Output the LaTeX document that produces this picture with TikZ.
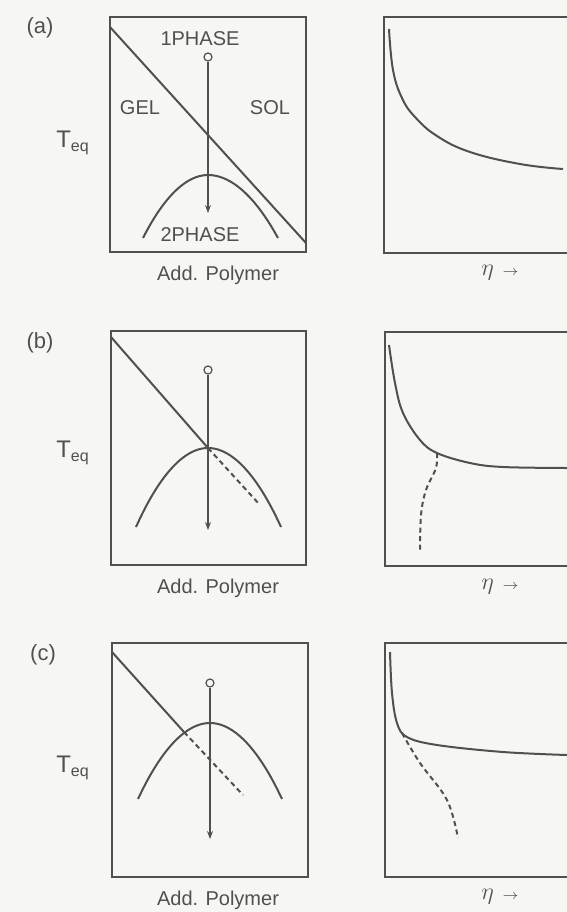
\documentclass[tikz,border=0pt]{standalone}
\usepackage{fontspec}
\setmainfont{Liberation Sans}
\usetikzlibrary{arrows.meta,positioning}
\definecolor{inkgray}{HTML}{505050}
\definecolor{paper}{HTML}{F6F6F2}
\begin{document}
\begin{tikzpicture}[x=0.5pt,y=-0.5pt,
    frame/.style={draw=inkgray,line width=0.8pt},
    curve/.style={draw=inkgray,line width=1pt},
    dashcurve/.style={draw=inkgray,line width=1pt,dash pattern=on 2.5pt off 1.8pt},
    lbl/.style={font=\fontsize{10}{12}\selectfont,text=inkgray,inner sep=1pt},
    teq/.style={font=\fontsize{12}{14}\selectfont,text=inkgray,inner sep=1pt},
    etalbl/.style={font=\fontsize{13}{15}\selectfont,text=inkgray,inner sep=1pt},
    tag/.style={font=\fontsize{11}{13}\selectfont,text=inkgray,inner sep=1pt},
    startpt/.style={circle,draw=inkgray,line width=0.6pt,fill=paper,minimum size=4pt,inner sep=0pt},
    arr/.style={-{Stealth[length=4pt,width=3pt]},inkgray,line width=0.55pt}]
  \useasboundingbox (0,0) rectangle (567,912);
  \clip (0,0) rectangle (567,912);
  \fill[paper] (0,0) rectangle (567,912);

  % (a)
  \node[tag] (taga) at (40,28) {(a)};
  \draw[frame] (110,17) rectangle (306,252);
  \draw[frame] (384,17) rectangle (600,253);
  \node[teq] (teqa) at (73,143) {T\textsubscript{eq}};
  \node[lbl] (onea) at (200,39) {1PHASE};
  \node[lbl] (gela) at (140,108) {GEL};
  \node[lbl] (sola) at (270,108) {SOL};
  \node[lbl] (twoa) at (200,235) {2PHASE};
  \node[lbl] (xa) at (218,275) {Add. Polymer};
  \node[etalbl] (etaa) at (500,273) {$\eta$\,\,{\scriptsize$\rightarrow$}};
  \draw[curve] (110,27) -- (306,243);
  \draw[curve] (143,238) parabola bend (208,175) (278,238);
  \node[startpt] (sa) at (208,57) {};
  \coordinate (ea) at (208,213);
  \draw[arr] (sa) -- (ea);
  \draw[curve] plot[smooth,tension=0.7] coordinates
    {(389,29) (393,70) (402,98) (415,117) (437,136) (470,152) (520,164) (563,169)};

  % (b)
  \node[tag] (tagb) at (40,343) {(b)};
  \draw[frame] (111,331) rectangle (306,565);
  \draw[frame] (385,332) rectangle (600,566);
  \node[teq] (teqb) at (73,453) {T\textsubscript{eq}};
  \node[lbl] (xb) at (218,588) {Add. Polymer};
  \node[etalbl] (etab) at (500,587) {$\eta$\,\,{\scriptsize$\rightarrow$}};
  \coordinate (pb) at (208,448);
  \draw[curve] (111,337) -- (pb);
  \draw[dashcurve] (pb) -- (260,505);
  \draw[curve] (136,527) parabola bend (pb) (281,527);
  \node[startpt] (sb) at (208,370) {};
  \coordinate (eb) at (208,530);
  \draw[arr] (sb) -- (eb);
  \draw[curve] plot[smooth,tension=0.6] coordinates
    {(389,345) (395,383) (403,413) (420,440) (437,453) (470,463) (503,467) (567,468)};
  \draw[dashcurve] plot[smooth,tension=0.6] coordinates
    {(437,453) (436,468) (426,490) (421,515) (420,553)};

  % (c)
  \node[tag] (tagc) at (43,655) {(c)};
  \draw[frame] (112,643) rectangle (308,877);
  \draw[frame] (385,643) rectangle (600,877);
  \node[teq] (teqc) at (73,768) {T\textsubscript{eq}};
  \node[lbl] (xc) at (218,900) {Add. Polymer};
  \node[etalbl] (etac) at (500,897) {$\eta$\,\,{\scriptsize$\rightarrow$}};
  \coordinate (pc) at (184,732);
  \draw[curve] (112,652) -- (pc);
  \draw[dashcurve] (pc) -- (243,795);
  \draw[curve] (138,799) parabola bend (210,723) (282,799);
  \node[startpt] (sc) at (210,683) {};
  \coordinate (ec) at (210,839);
  \draw[arr] (sc) -- (ec);
  \draw[curve] plot[smooth,tension=0.6] coordinates
    {(390,652) (392,693) (397,723) (407,737) (437,745) (503,752) (567,755)};
  \draw[dashcurve] plot[smooth,tension=0.6] coordinates
    {(402,733) (420,763) (447,800) (458,838)};
\end{tikzpicture}
\end{document}
